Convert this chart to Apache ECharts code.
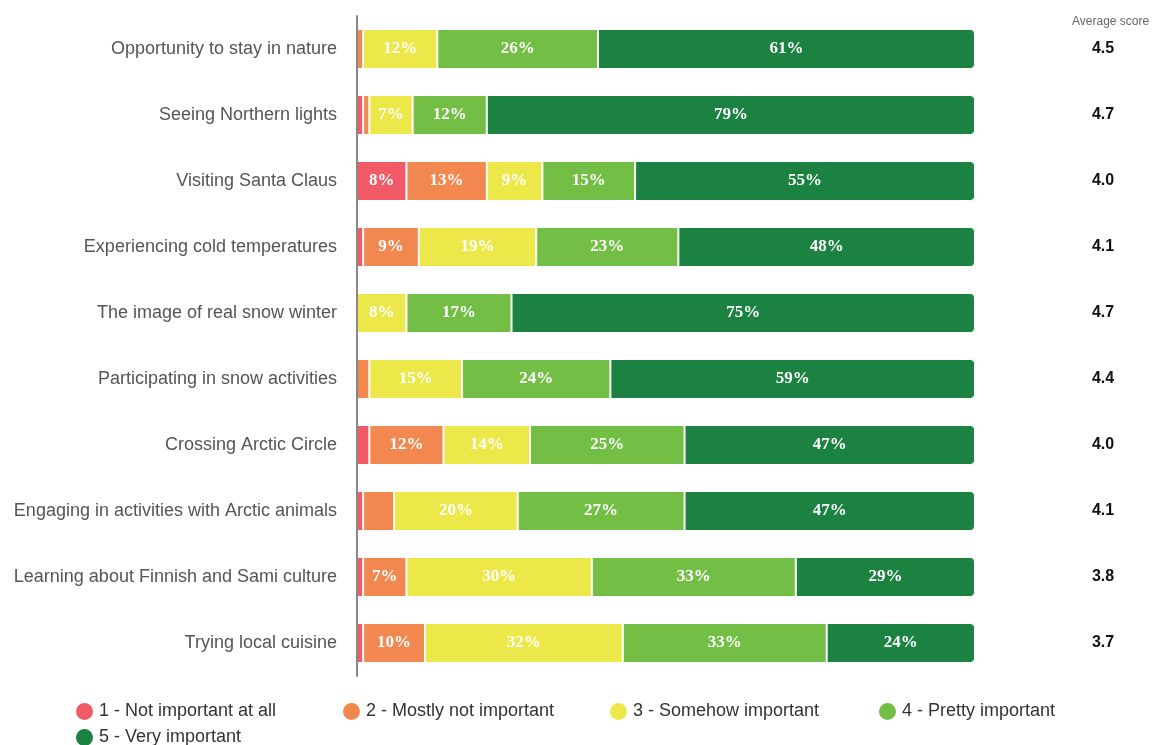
<!DOCTYPE html>
<html>
<head>
<meta charset="utf-8">
<script src="https://cdn.jsdelivr.net/npm/echarts@6/dist/echarts.min.js"></script>
<style>
  html, body { margin: 0; padding: 0; background: #fff; }
  #chart { width: 1152px; height: 745px; }
</style>
</head>
<body>
<div id="chart"></div>
<script>
// Survey: importance of winter experiences (share of respondents, %)
const categories = [
  'Opportunity to stay in nature',
  'Seeing Northern lights',
  'Visiting Santa Claus',
  'Experiencing cold temperatures',
  'The image of real snow winter',
  'Participating in snow activities',
  'Crossing Arctic Circle',
  'Engaging in activities with Arctic animals',
  'Learning about Finnish and Sami culture',
  'Trying local cuisine'
];
const levelNames = [
  '1 - Not important at all',
  '2 - Mostly not important',
  '3 - Somehow important',
  '4 - Pretty important',
  '5 - Very important'
];
const notImportant    = [0, 1, 8, 1, 0, 0, 2, 1, 1, 1];
const mostlyNot       = [1, 1, 13, 9, 0, 2, 12, 5, 7, 10];
const somehow         = [12, 7, 9, 19, 8, 15, 14, 20, 30, 32];
const pretty          = [26, 12, 15, 23, 17, 24, 25, 27, 33, 33];
const veryImportant   = [61, 79, 55, 48, 75, 59, 47, 47, 29, 24];
const averageScores   = ['4.5', '4.7', '4.0', '4.1', '4.7', '4.4', '4.0', '4.1', '3.8', '3.7'];

const colors = ['#F15A66', '#F2874F', '#EDE84A', '#73BF45', '#1B8241'];
const seriesValues = [notImportant, mostlyNot, somehow, pretty, veryImportant];

const chart = echarts.init(document.getElementById('chart'));

const series = seriesValues.map((vals, i) => ({
  name: levelNames[i],
  type: 'bar',
  stack: 'total',
  barWidth: 40,
  data: vals,
  itemStyle: {
    color: colors[i],
    borderColor: '#fff',
    borderWidth: 1,
    borderRadius: i === 4 ? [0, 4, 4, 0] : 0
  },
  label: {
    show: true,
    position: 'inside',
    color: '#fff',
    fontFamily: 'Liberation Serif',
    fontWeight: 'bold',
    fontSize: 17,
    formatter: p => (p.value >= 6 ? p.value + '%' : '')
  },
  emphasis: { disabled: true }
}));

const legendPos = [
  { left: 74, top: 701 },
  { left: 341, top: 701 },
  { left: 608, top: 701 },
  { left: 877, top: 701 },
  { left: 74, top: 727 }
];
const legends = levelNames.map((n, i) => ({
  data: [n],
  left: legendPos[i].left,
  top: legendPos[i].top,
  padding: 0,
  icon: 'circle',
  itemWidth: 19,
  itemHeight: 19,
  itemGap: 5,
  selectedMode: false,
  textStyle: { fontSize: 18, color: '#333', fontFamily: 'Liberation Sans' }
}));

chart.setOption({
  animation: false,
  title: {
    text: 'Average score',
    left: 1072,
    top: 16,
    padding: 0,
    textStyle: { fontSize: 12, color: '#666', fontWeight: 'normal', fontFamily: 'Liberation Sans' }
  },
  legend: legends,
  grid: { left: 357, right: 177, top: 16, height: 660 },
  xAxis: { type: 'value', min: 0, max: 100, show: false },
  yAxis: [
    {
      type: 'category',
      inverse: true,
      z: 5,
      data: categories,
      axisLine: { show: true, lineStyle: { color: '#888', width: 2 } },
      axisTick: { show: false },
      axisLabel: { fontSize: 18, color: '#555', margin: 20, fontFamily: 'Liberation Sans' }
    },
    {
      type: 'category',
      inverse: true,
      position: 'right',
      data: averageScores,
      axisLine: { show: false },
      axisTick: { show: false },
      axisLabel: {
        margin: 128,
        align: 'center',
        fontSize: 16,
        fontWeight: 'bold',
        color: '#111',
        fontFamily: 'Liberation Sans'
      }
    }
  ],
  series: series
});
</script>
</body>
</html>
